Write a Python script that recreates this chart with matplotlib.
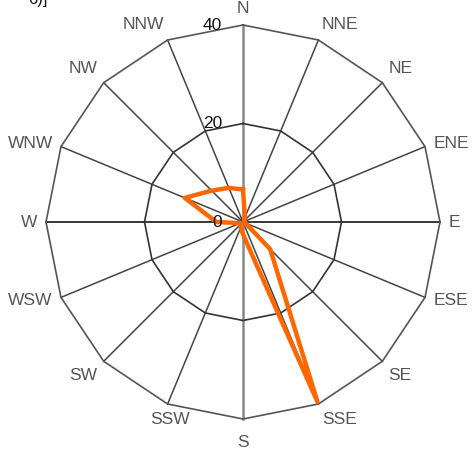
import numpy as np
import matplotlib
matplotlib.use("Agg")
import matplotlib.pyplot as plt

plt.rcParams['font.family'] = ['Liberation Sans', 'DejaVu Sans']

directions = ["N", "NNE", "NE", "ENE", "E", "ESE", "SE", "SSE",
              "S", "SSW", "SW", "WSW", "W", "WNW", "NW", "NNW"]
values = [6.6, 1.0, 0.3, 0.3, 0.3, 0.5, 7.8, 39.5,
          2.5, 1.2, 0.6, 0.6, 5.4, 12.8, 9.0, 7.5]
rings = [20, 40]
ring_labels = ["0", "20", "40"]
ring_label_values = [0, 20, 40]

rmax = 40
px_per_unit = 197 / 40.0
W, H = 472, 451
cx, cy = 243, 222  # center in pixels from top-left

fig = plt.figure(figsize=(W / 100, H / 100), dpi=100)
ax = fig.add_axes([0, 0, 1, 1])
ax.set_xlim(-cx / px_per_unit, (W - cx) / px_per_unit)
ax.set_ylim(-(H - cy) / px_per_unit, cy / px_per_unit)
ax.axis('off')

n = len(directions)
theta = np.arange(n) * 2 * np.pi / n
sx, sy = np.sin(theta), np.cos(theta)

# spokes
for i in range(n):
    if i in (0, 8):
        col, lw = '#888888', 1.8
    elif i in (4, 12):
        col, lw = '#000000', 1.1
    else:
        col, lw = '#444444', 1.1
    ax.plot([0, rmax * sx[i]], [0, rmax * sy[i]], color=col, lw=lw, zorder=1)

# rings
for r in rings:
    xs = np.append(r * sx, r * sx[0])
    ys = np.append(r * sy, r * sy[0])
    ax.plot(xs, ys, color='#333333' if r < rmax else '#555555', lw=1.2, zorder=1)

# data polygon
v = np.array(values)
xs = np.append(v * sx, v[0] * sx[0])
ys = np.append(v * sy, v[0] * sy[0])
ax.plot(xs, ys, color='#FF6600', lw=3.2, solid_joinstyle='round', zorder=3)

# ring labels
for lab, val in zip(ring_labels, ring_label_values):
    ax.annotate(lab, (0, val), xytext=(-21, 0), textcoords='offset pixels',
                ha='right', va='center', fontsize=12.5, color='#111111', zorder=4)

# direction labels
for i, d in enumerate(directions):
    s, c = sx[i], sy[i]
    ha = 'left' if s > 0.1 else ('right' if s < -0.1 else 'center')
    va = 'bottom' if c > 0.5 else ('top' if c < -0.5 else 'center')
    off = 9
    dx, dy = off * s, off * c
    if d == "S":
        dy = -16
    if d == "SSW":
        ha = 'center'
        dx = 2
    ax.annotate(d, (rmax * s, rmax * c), xytext=(dx, dy),
                textcoords='offset pixels', ha=ha, va=va,
                fontsize=12.5, color='#555555')

# partially cut-off title fragment at top-left
fig.text(28 / W, 1 - 4 / H, "6)]", ha='left', va='baseline', fontsize=12, color='#111111')

fig.savefig("out.png", dpi=100)
